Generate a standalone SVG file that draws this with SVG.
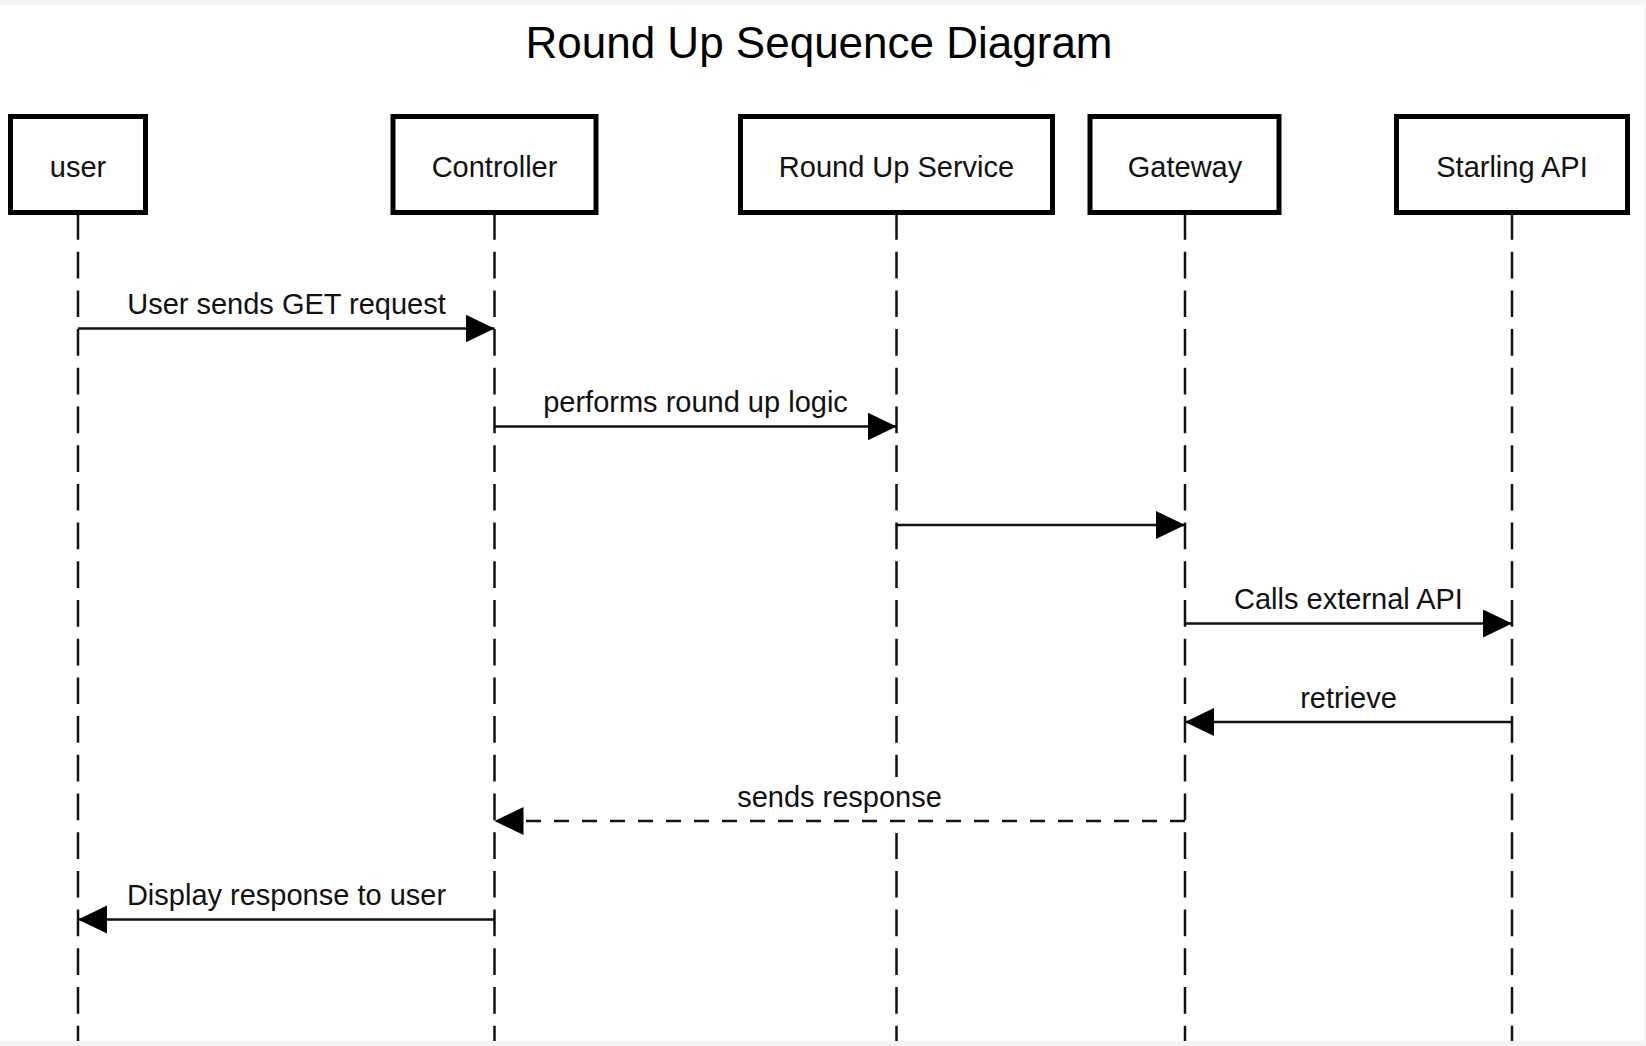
<svg xmlns="http://www.w3.org/2000/svg" width="1646" height="1046" viewBox="0 0 1646 1046">
<defs>
<style>
.box{fill:#fff;stroke:#000;stroke-width:5}
.lbl{font-family:"Liberation Sans",Arial,sans-serif;font-size:29px;fill:#111;text-anchor:middle}
.title{font-family:"Liberation Sans",Arial,sans-serif;font-size:44px;fill:#000;text-anchor:middle}
.life{stroke:#111;stroke-width:2.5;stroke-dasharray:26.7 12;fill:none}
.msg{stroke:#111;stroke-width:2.5;fill:none;marker-end:url(#ah)}
.ret{stroke:#111;stroke-width:2.5;fill:none;stroke-dasharray:15 13;marker-end:url(#ah)}
</style>
<marker id="ah" markerUnits="userSpaceOnUse" markerWidth="32" markerHeight="30" refX="29" refY="14" orient="auto">
<polygon points="0,0 29,14 0,28" fill="#000"/>
</marker>
</defs>
<rect x="0" y="0" width="1646" height="1046" fill="#f4f4f4"/>
<rect x="0" y="5" width="1644" height="1036" fill="#fff"/>
<text class="title" x="819" y="58">Round Up Sequence Diagram</text>
<g id="lifelines">
<line class="life" x1="78" y1="213" x2="78" y2="1041"/>
<line class="life" x1="494.5" y1="213" x2="494.5" y2="1041"/>
<line class="life" x1="896.5" y1="213" x2="896.5" y2="1041"/>
<line class="life" x1="1185" y1="213" x2="1185" y2="1041"/>
<line class="life" x1="1512" y1="213" x2="1512" y2="1041"/>
</g>
<g id="user"><rect class="box" x="10.5" y="116.5" width="135" height="96"/><text class="lbl" x="78" y="177">user</text></g>
<g id="controller"><rect class="box" x="393" y="116.5" width="203" height="96"/><text class="lbl" x="494.5" y="177">Controller</text></g>
<g id="service"><rect class="box" x="740.5" y="116.5" width="312" height="96"/><text class="lbl" x="896.5" y="177">Round Up Service</text></g>
<g id="gateway"><rect class="box" x="1090" y="116.5" width="189" height="96"/><text class="lbl" x="1185" y="177">Gateway</text></g>
<g id="starling"><rect class="box" x="1396.5" y="116.5" width="231" height="96"/><text class="lbl" x="1512" y="177">Starling API</text></g>
<g id="connectors">
<line class="msg" x1="78" y1="328.5" x2="494.5" y2="328.5"/>
<text class="lbl" x="286.5" y="314">User sends GET request</text>
<line class="msg" x1="494.5" y1="426.5" x2="896.5" y2="426.5"/>
<text class="lbl" x="695.5" y="412">performs round up logic</text>
<line class="msg" x1="896.5" y1="525" x2="1185" y2="525"/>
<line class="msg" x1="1185" y1="623.5" x2="1512" y2="623.5"/>
<text class="lbl" x="1348.5" y="609">Calls external API</text>
<line class="msg" x1="1512" y1="722" x2="1185" y2="722"/>
<text class="lbl" x="1348.5" y="708">retrieve</text>
<rect x="736" y="777" width="208" height="56" fill="#fff"/>
<line class="ret" x1="1185" y1="821" x2="494.5" y2="821"/>
<text class="lbl" x="839.5" y="807">sends response</text>
<line class="msg" x1="494.5" y1="919.5" x2="78" y2="919.5"/>
<text class="lbl" x="286.5" y="905">Display response to user</text>
</g>
</svg>
